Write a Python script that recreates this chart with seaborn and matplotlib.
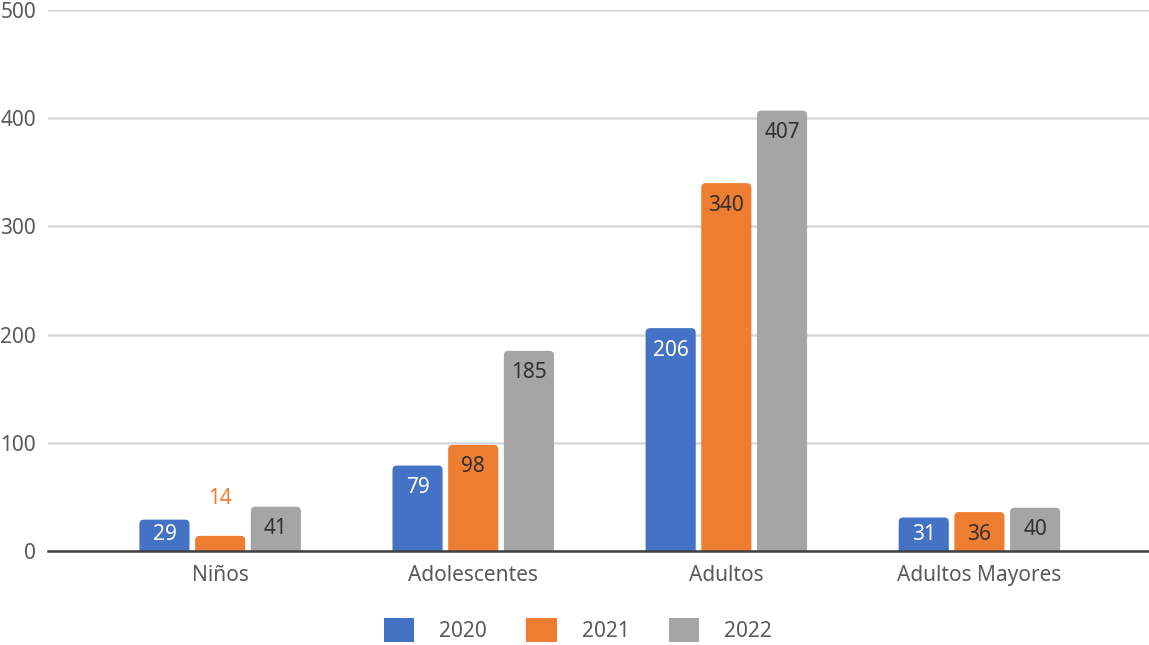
import matplotlib
matplotlib.use("Agg")
import matplotlib.pyplot as plt
from matplotlib.patches import FancyBboxPatch, Patch
import seaborn as sns
import pandas as pd

# Data
categories = ["Niños", "Adolescentes", "Adultos", "Adultos Mayores"]
years = ["2020", "2021", "2022"]
values_2020 = [29, 79, 206, 31]
values_2021 = [14, 98, 340, 36]
values_2022 = [41, 185, 407, 40]
y_ticks = [0, 100, 200, 300, 400, 500]

colors = ["#4472C4", "#ED7D31", "#A5A5A5"]
label_colors = ["white", "#303030", "#303030"]
tick_color = "#595959"
fs = 15

series = {"2020": values_2020, "2021": values_2021, "2022": values_2022}
df = pd.DataFrame(
    [(c, y, v) for y in years for c, v in zip(categories, series[y])],
    columns=["categoria", "anio", "valor"],
)

sns.set_theme(style="white")
plt.rcParams["font.family"] = ["Noto Sans", "DejaVu Sans"]

fig = plt.figure(figsize=(11.49, 6.45), dpi=100)
ax = fig.add_axes([0.0418, 0.1457, 0.9582, 0.8388])

sns.barplot(
    data=df, x="categoria", y="valor", hue="anio",
    order=categories, hue_order=years, palette=colors,
    width=0.66, gap=0.1, saturation=1, legend=False, ax=ax,
)

ax.set_ylim(0, 500)
ax.set_xlim(-0.68, 3.67)

# Axis geometry in pixels, used for rounded corners and label offsets
fig.canvas.draw()
bbox = ax.get_window_extent()
px_per_x = bbox.width / (ax.get_xlim()[1] - ax.get_xlim()[0])
px_per_y = bbox.height / (ax.get_ylim()[1] - ax.get_ylim()[0])
radius_px = 4.5
aspect = px_per_x / px_per_y

for hi, (container, year) in enumerate(zip(ax.containers, years)):
    vals = series[year]
    for rect, v in zip(container.patches, vals):
        x, w, h = rect.get_x(), rect.get_width(), rect.get_height()
        rect.set_visible(False)
        extra = 10 / px_per_y
        fancy = FancyBboxPatch(
            (x, -extra), w, h + extra,
            boxstyle=f"round,pad=0,rounding_size={radius_px / px_per_x}",
            mutation_aspect=aspect, fc=colors[hi], ec="none", zorder=3,
        )
        ax.add_patch(fancy)
        cx = x + w / 2
        if h * px_per_y < 25:
            # Too short to hold its label: put it above the bar
            ax.text(cx, h + 37 / px_per_y, f"{v}", ha="center", va="center",
                    fontsize=fs, color=colors[hi], zorder=4)
        else:
            ly = max(h - 22 / px_per_y, 15)
            ax.text(cx, ly, f"{v}", ha="center", va="center",
                    fontsize=fs, color=label_colors[hi], zorder=4)

ax.set_yticks(y_ticks)
ax.yaxis.grid(True, color="#D9D9D9", linewidth=1.8, zorder=0)
ax.set_axisbelow(True)
for s in ["left", "right", "top"]:
    ax.spines[s].set_visible(False)
ax.spines["bottom"].set_color("#404040")
ax.spines["bottom"].set_linewidth(1.8)
ax.spines["bottom"].set_zorder(5)

ax.tick_params(axis="y", length=0, pad=8.5, labelsize=fs, labelcolor=tick_color)
ax.tick_params(axis="x", length=0, pad=10, labelsize=fs, labelcolor=tick_color)
ax.set_xlabel("")
ax.set_ylabel("")

handles = [Patch(facecolor=c, edgecolor="none") for c in colors]
fig.legend(
    handles, years, loc="center", bbox_to_anchor=(578 / 1149, 1 - 630 / 645),
    ncol=3, frameon=False, fontsize=fs, labelcolor=tick_color,
    handlelength=1.45, handleheight=1.45, handletextpad=1.2, columnspacing=1.9,
)

fig.savefig("out.png", dpi=100)
